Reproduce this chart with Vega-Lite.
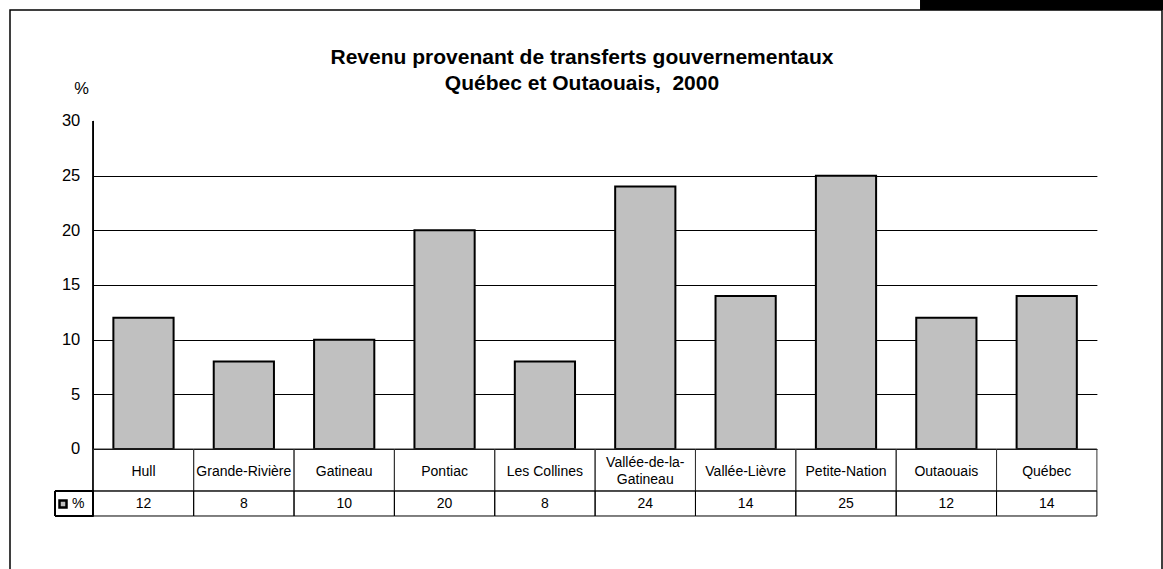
{
  "$schema": "https://vega.github.io/schema/vega-lite/v6.json",
  "width": 1152,
  "height": 562,
  "autosize": {"type": "none"},
  "padding": {"left": 10, "top": 10, "right": 1, "bottom": 0},
  "background": "white",
  "config": {
    "view": {"stroke": "black", "strokeWidth": 1.5},
    "font": "Liberation Sans",
    "axisY": {
      "labelFont": "Liberation Sans",
      "labelFontSize": 16.5,
      "labelColor": "black",
      "titleFont": "Liberation Sans",
      "titleFontSize": 16.5,
      "titleFontWeight": "normal",
      "titleColor": "black"
    }
  },
  "title": {
    "text": ["Revenu provenant de transferts gouvernementaux", "Québec et Outaouais,\u00a0 2000"],
    "orient": "top",
    "anchor": "middle",
    "frame": "group",
    "font": "Liberation Sans",
    "fontSize": 21,
    "fontWeight": "bold",
    "color": "black",
    "lineHeight": 26,
    "baseline": "alphabetic",
    "offset": -117,
    "dx": -4
  },
  "data": {
    "values": [
      {"region": "Hull", "value": 12},
      {"region": "Grande-Rivière", "value": 8},
      {"region": "Gatineau", "value": 10},
      {"region": "Pontiac", "value": 20},
      {"region": "Les Collines", "value": 8},
      {"region": "Vallée-de-la-\nGatineau", "value": 24},
      {"region": "Vallée-Lièvre", "value": 14},
      {"region": "Petite-Nation", "value": 25},
      {"region": "Outaouais", "value": 12},
      {"region": "Québec", "value": 14}
    ]
  },
  "layer": [
    {
      "mark": {"type": "bar", "stroke": "black", "strokeWidth": 2, "width": {"band": 0.6}},
      "encoding": {
        "x": {
          "field": "region", "type": "nominal", "sort": null,
          "scale": {
            "domain": ["Hull", "Grande-Rivière", "Gatineau", "Pontiac", "Les Collines", "Vallée-de-la-\nGatineau", "Vallée-Lièvre", "Petite-Nation", "Outaouais", "Québec"],
            "paddingInner": 0, "paddingOuter": 0.7394, "align": 0.5613
          },
          "axis": null
        },
        "y": {
          "field": "value", "type": "quantitative",
          "scale": {"domain": [-11.25, 40.152], "nice": false, "zero": false},
          "title": "%",
          "axis": {
            "orient": "left",
            "values": [0, 5, 10, 15, 20, 25, 30],
            "offset": -83.3,
            "domain": false,
            "grid": false,
            "ticks": true,
            "tickSize": -1003.6,
            "tickWidth": 1,
            "tickColor": {"condition": {"test": "datum.value === 30", "value": "transparent"}, "value": "black"},
            "labelPadding": 1017.1,
            "titleAngle": 0,
            "titleAlign": "center",
            "titleBaseline": "middle",
            "titleX": -12.3,
            "titleY": 78
          }
        },
        "y2": {"datum": 0},
        "fill": {
          "datum": "%", "type": "nominal",
          "scale": {"range": ["#C0C0C0"]},
          "legend": {
            "orient": "none",
            "legendX": 46,
            "legendY": 487,
            "title": null,
            "padding": 0,
            "symbolType": "square",
            "symbolSize": 49,
            "symbolStrokeColor": "black",
            "symbolStrokeWidth": 2.5,
            "labelFont": "Liberation Sans",
            "labelFontSize": 14,
            "labelColor": "black",
            "labelOffset": 2
          }
        }
      }
    },
    {
      "mark": {"type": "rule", "color": "black", "strokeWidth": 1},
      "encoding": {
        "x": {"datum": "Hull", "bandPosition": 0},
        "y": {"datum": -6.128},
        "y2": {"datum": 30}
      }
    },
    {
      "mark": {"type": "rect", "fill": "transparent", "stroke": "#333333", "strokeWidth": 1},
      "encoding": {
        "x": {"field": "region", "type": "nominal", "sort": null},
        "y": {"datum": 0},
        "y2": {"datum": -3.841}
      }
    },
    {
      "mark": {"type": "rect", "fill": "transparent", "stroke": "black", "strokeWidth": 1},
      "encoding": {
        "x": {"field": "region", "type": "nominal", "sort": null},
        "y": {"datum": -3.841},
        "y2": {"datum": -6.128}
      }
    },
    {
      "mark": {"type": "rect", "fill": "transparent", "stroke": "black", "strokeWidth": 1},
      "encoding": {
        "x": {"datum": "Hull", "bandPosition": -0.3816},
        "x2": {"datum": "Hull", "bandPosition": 0},
        "y": {"datum": -3.841},
        "y2": {"datum": -6.128}
      }
    },
    {
      "transform": [{"filter": "indexof(datum.region, '\\n') < 0"}],
      "mark": {"type": "text", "font": "Liberation Sans", "fontSize": 14, "color": "black", "baseline": "middle", "align": "center"},
      "encoding": {
        "x": {"field": "region", "type": "nominal", "sort": null},
        "y": {"datum": -2.1},
        "text": {"field": "region"}
      }
    },
    {
      "transform": [{"filter": "indexof(datum.region, '\\n') >= 0"}],
      "mark": {"type": "text", "font": "Liberation Sans", "fontSize": 14, "color": "black", "baseline": "middle", "align": "center", "lineBreak": "\n", "lineHeight": 16.5, "dy": -8.5},
      "encoding": {
        "x": {"field": "region", "type": "nominal", "sort": null},
        "y": {"datum": -2.1},
        "text": {"field": "region"}
      }
    },
    {
      "mark": {"type": "text", "font": "Liberation Sans", "fontSize": 14, "color": "black", "baseline": "middle", "align": "center"},
      "encoding": {
        "x": {"field": "region", "type": "nominal", "sort": null},
        "y": {"datum": -4.985},
        "text": {"field": "value", "type": "quantitative"}
      }
    },
    {
      "mark": {"type": "rect", "fill": "black"},
      "encoding": {
        "x": {"datum": "Outaouais", "bandPosition": 0.244},
        "x2": {"datum": "Québec", "bandPosition": 1.8},
        "y": {"datum": 41.6},
        "y2": {"datum": 40.152}
      }
    }
  ]
}
